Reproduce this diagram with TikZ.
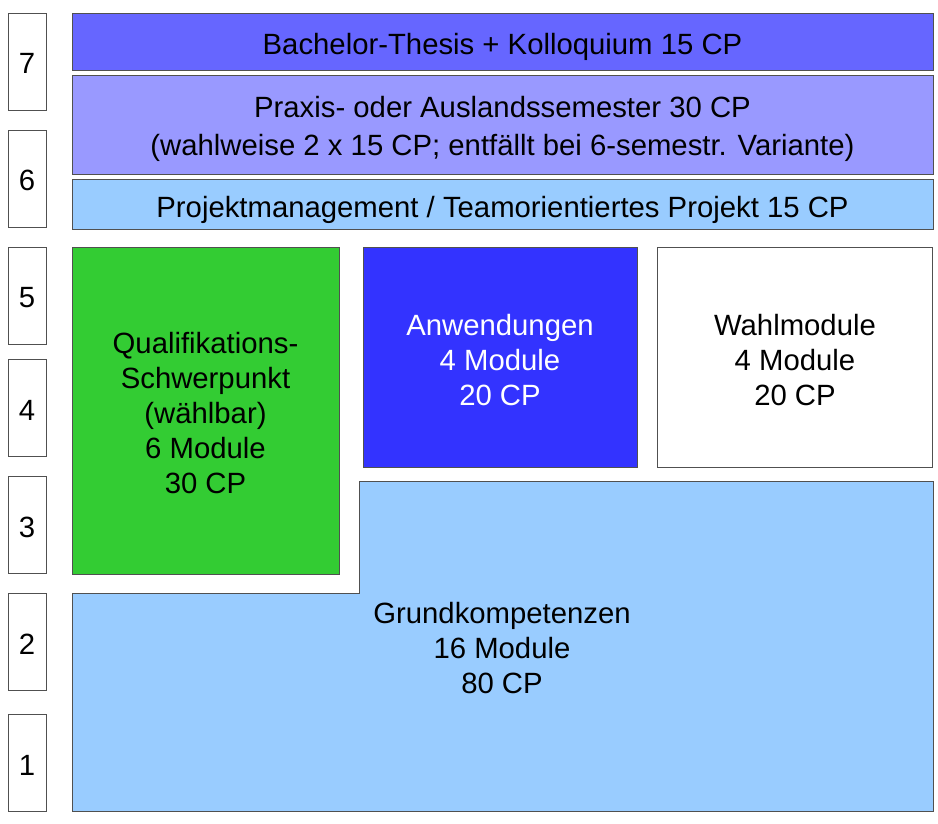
\documentclass[tikz,border=0pt]{standalone}
\usepackage{fontspec}
\setmainfont{Liberation Sans}
\definecolor{cThesis}{HTML}{6666FF}
\definecolor{cPraxis}{HTML}{9999FF}
\definecolor{cLight}{HTML}{99CCFF}
\definecolor{cGreen}{HTML}{33CC33}
\definecolor{cBlue}{HTML}{3333FF}
\definecolor{cEdge}{HTML}{505050}
\tikzset{
  box/.style={draw=cEdge, line width=1pt, rectangle, inner sep=0pt, outer sep=0pt},
  txt/.style={inner sep=0pt, align=center, font=\fontsize{29.3}{35}\selectfont},
  sem/.style={box, fill=white, minimum width=38pt, minimum height=97pt},
}
\begin{document}
\begin{tikzpicture}[x=1pt,y=-1pt]
\useasboundingbox (0,0) rectangle (938,823);
% semester boxes
\node[sem] (s7) at (27,61.5) {};
\node[sem] (s6) at (27,178.5) {};
\node[sem] (s5) at (27,295.5) {};
\node[sem] (s4) at (27,408) {};
\node[sem] (s3) at (27,525) {};
\node[sem] (s2) at (27,642) {};
\node[sem] (s1) at (27,762.5) {};
\node[txt, yshift=-2pt] (t7) at (s7) {7};
\node[txt, yshift=-2pt] (t6) at (s6) {6};
\node[txt, yshift=-2pt] (t5) at (s5) {5};
\node[txt, yshift=-2.5pt] (t4) at (s4) {4};
\node[txt, yshift=-2.5pt] (t3) at (s3) {3};
\node[txt, yshift=-2pt] (t2) at (s2) {2};
\node[txt, yshift=-3pt] (t1) at (s1) {1};
% top bars
\node[box, fill=cThesis, minimum width=861pt, minimum height=57pt] (thesis) at (502.5,41.5) {};
\node[txt, yshift=-5pt] (thesisT) at (thesis) {Bachelor-Thesis + Kolloquium 15 CP};
\node[box, fill=cPraxis, minimum width=861pt, minimum height=99pt] (praxis) at (502.5,124.5) {};
\node[txt, yshift=-4.5pt] (praxisT) at (praxis) {Praxis- oder Auslandssemester 30 CP\\[3pt](wahlweise 2 x 15 CP; entfällt bei 6-semestr. Variante)};
\node[box, fill=cLight, minimum width=861pt, minimum height=50pt] (projekt) at (502.5,204) {};
\node[txt, yshift=-5.5pt] (projektT) at (projekt) {Projektmanagement / Teamorientiertes Projekt 15 CP};
% middle
\node[box, fill=cGreen, minimum width=267pt, minimum height=327pt] (quali) at (205.5,410.5) {};
\node[txt, yshift=-2.5pt] (qualiT) at (quali) {Qualifikations-\\Schwerpunkt\\(wählbar)\\6 Module\\30 CP};
\node[box, fill=cBlue, minimum width=274pt, minimum height=220pt] (anw) at (500,357) {};
\node[txt, text=white, yshift=-3pt] (anwT) at (anw) {Anwendungen\\4 Module\\20 CP};
\node[box, fill=white, minimum width=275pt, minimum height=220pt] (wahl) at (795,357) {};
\node[txt, yshift=-3pt] (wahlT) at (wahl) {Wahlmodule\\4 Module\\20 CP};
% Grundkompetenzen
\draw[draw=cEdge, line width=1pt, fill=cLight] (72,593) -- (359,593) -- (359,481) -- (933,481) -- (933,811) -- (72,811) -- cycle;
\node[txt] (grund) at (502,648.5) {Grundkompetenzen\\16 Module\\80 CP};
\end{tikzpicture}
\end{document}
